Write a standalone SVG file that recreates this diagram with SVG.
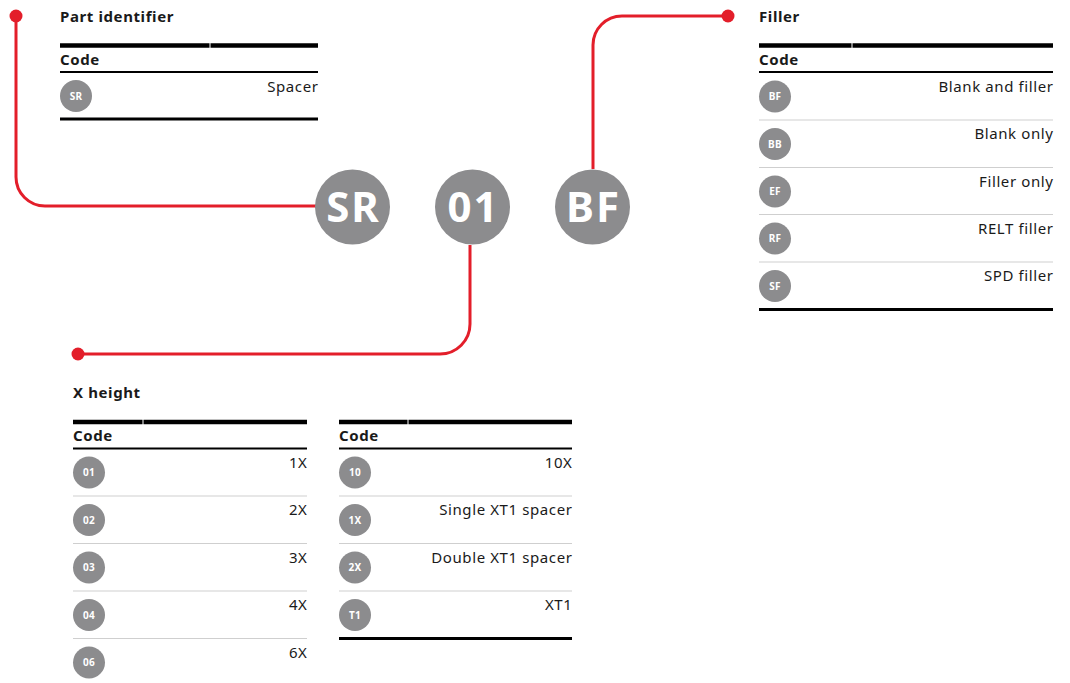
<svg xmlns="http://www.w3.org/2000/svg" width="1070" height="683" viewBox="0 0 1070 683">
<style>
text{font-family:"Noto Sans","Open Sans","Liberation Sans",sans-serif;fill:#1a1a1a}
.t{font-size:15px;font-weight:700;letter-spacing:0.6px}
.v{font-size:15px;text-anchor:end;letter-spacing:0.6px}
.c{fill:#8c8c8e}
.ct{font-size:10px;font-weight:700;fill:#fff;text-anchor:middle;letter-spacing:0.3px}
.big{font-size:42px;font-weight:700;fill:#fff;text-anchor:middle;letter-spacing:2px}
.thick{stroke:#000;stroke-width:4.5}
.mid{stroke:#000;stroke-width:2}
.bot{stroke:#000;stroke-width:3}
.sep{stroke:#cfcfcf;stroke-width:1.2}
.con{fill:none;stroke:#e31e2a;stroke-width:3}
.dot{fill:#e31e2a}
</style>
<g id="connectors">
<path class="con" d="M16,16 V177 A29,29 0 0 0 45,206 H316"/>
<circle class="dot" cx="16" cy="16" r="6.5"/>
<path class="con" d="M470,245 V324 A30,30 0 0 1 440,354 H78"/>
<circle class="dot" cx="78" cy="354" r="6.5"/>
<path class="con" d="M593,169 V45 A29,29 0 0 1 622,16 H728"/>
<circle class="dot" cx="728" cy="16" r="6.5"/>
</g>
<g id="node-SR">
<circle class="c" cx="352.5" cy="207" r="37.5"/>
<text class="big" x="353.5" y="222">SR</text>
</g>
<g id="node-01">
<circle class="c" cx="472.5" cy="207" r="37.5"/>
<text class="big" x="473.5" y="222">01</text>
</g>
<g id="node-BF">
<circle class="c" cx="592.5" cy="207" r="37.5"/>
<text class="big" x="593.5" y="222">BF</text>
</g>
<g id="table-part-identifier">
<text class="t" x="60" y="22">Part identifier</text>
<line class="thick" x1="60" y1="45.5" x2="209.5" y2="45.5"/>
<line class="thick" x1="210.5" y1="45.5" x2="318" y2="45.5"/>
<text class="t" x="60" y="65">Code</text>
<line class="mid" x1="60" y1="72" x2="318" y2="72"/>
<circle class="c" cx="76" cy="96" r="16"/>
<text class="ct" x="76" y="99.5">SR</text>
<text class="v" x="318.5" y="91.5">Spacer</text>
<line class="bot" x1="60" y1="119" x2="318" y2="119"/>
</g>
<g id="table-filler">
<text class="t" x="759" y="22">Filler</text>
<line class="thick" x1="759" y1="45.5" x2="851.5" y2="45.5"/>
<line class="thick" x1="852.5" y1="45.5" x2="1053" y2="45.5"/>
<text class="t" x="759" y="65">Code</text>
<line class="mid" x1="759" y1="72" x2="1053" y2="72"/>
<circle class="c" cx="775" cy="96.5" r="16"/>
<text class="ct" x="775" y="100">BF</text>
<text class="v" x="1053.5" y="92">Blank and filler</text>
<line class="sep" x1="759" y1="120" x2="1053" y2="120"/>
<circle class="c" cx="775" cy="144" r="16"/>
<text class="ct" x="775" y="147.5">BB</text>
<text class="v" x="1053.5" y="139">Blank only</text>
<line class="sep" x1="759" y1="167.5" x2="1053" y2="167.5"/>
<circle class="c" cx="775" cy="191.5" r="16"/>
<text class="ct" x="775" y="195">EF</text>
<text class="v" x="1053.5" y="186.5">Filler only</text>
<line class="sep" x1="759" y1="214.5" x2="1053" y2="214.5"/>
<circle class="c" cx="775" cy="238.5" r="16"/>
<text class="ct" x="775" y="242">RF</text>
<text class="v" x="1053.5" y="233.5">RELT filler</text>
<line class="sep" x1="759" y1="262" x2="1053" y2="262"/>
<circle class="c" cx="775" cy="286" r="16"/>
<text class="ct" x="775" y="289.5">SF</text>
<text class="v" x="1053.5" y="281">SPD filler</text>
<line class="bot" x1="759" y1="309.5" x2="1053" y2="309.5"/>
</g>
<g id="table-x-height">
<text class="t" x="73" y="398">X height</text>
<line class="thick" x1="73" y1="422" x2="142.5" y2="422"/>
<line class="thick" x1="143.5" y1="422" x2="307" y2="422"/>
<text class="t" x="73" y="441">Code</text>
<line class="mid" x1="73" y1="448.5" x2="307" y2="448.5"/>
<circle class="c" cx="89" cy="472.5" r="16"/>
<text class="ct" x="89" y="476">01</text>
<text class="v" x="307.5" y="467.5">1X</text>
<line class="sep" x1="73" y1="496" x2="307" y2="496"/>
<circle class="c" cx="89" cy="520" r="16"/>
<text class="ct" x="89" y="523.5">02</text>
<text class="v" x="307.5" y="515">2X</text>
<line class="sep" x1="73" y1="543.5" x2="307" y2="543.5"/>
<circle class="c" cx="89" cy="567.5" r="16"/>
<text class="ct" x="89" y="571">03</text>
<text class="v" x="307.5" y="562.5">3X</text>
<line class="sep" x1="73" y1="591" x2="307" y2="591"/>
<circle class="c" cx="89" cy="615" r="16"/>
<text class="ct" x="89" y="618.5">04</text>
<text class="v" x="307.5" y="610">4X</text>
<line class="sep" x1="73" y1="638.5" x2="307" y2="638.5"/>
<circle class="c" cx="89" cy="662.5" r="16"/>
<text class="ct" x="89" y="666">06</text>
<text class="v" x="307.5" y="657.5">6X</text>
</g>
<g id="table-x-height-2">
<line class="thick" x1="339" y1="422" x2="407.5" y2="422"/>
<line class="thick" x1="408.5" y1="422" x2="572" y2="422"/>
<text class="t" x="339" y="441">Code</text>
<line class="mid" x1="339" y1="448.5" x2="572" y2="448.5"/>
<circle class="c" cx="355" cy="472.5" r="16"/>
<text class="ct" x="355" y="476">10</text>
<text class="v" x="572.5" y="467.5">10X</text>
<line class="sep" x1="339" y1="496" x2="572" y2="496"/>
<circle class="c" cx="355" cy="520" r="16"/>
<text class="ct" x="355" y="523.5">1X</text>
<text class="v" x="572.5" y="515">Single XT1 spacer</text>
<line class="sep" x1="339" y1="543.5" x2="572" y2="543.5"/>
<circle class="c" cx="355" cy="567.5" r="16"/>
<text class="ct" x="355" y="571">2X</text>
<text class="v" x="572.5" y="562.5">Double XT1 spacer</text>
<line class="sep" x1="339" y1="591" x2="572" y2="591"/>
<circle class="c" cx="355" cy="615" r="16"/>
<text class="ct" x="355" y="618.5">T1</text>
<text class="v" x="572.5" y="610">XT1</text>
<line class="bot" x1="339" y1="638.5" x2="572" y2="638.5"/>
</g>
</svg>
